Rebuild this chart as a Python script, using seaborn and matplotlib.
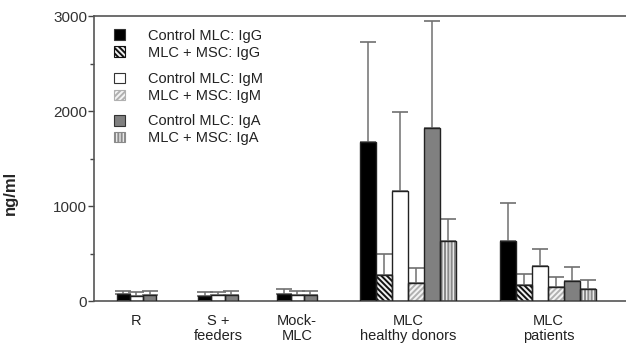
import numpy as np
import pandas as pd
import matplotlib
matplotlib.use("Agg")
import matplotlib.pyplot as plt
from matplotlib.patches import Patch
from matplotlib.ticker import MultipleLocator
import seaborn as sns

# ---- data (ng/ml) ----
groups = ["R", "S +\nfeeders", "Mock-\nMLC", "MLC\nhealthy donors", "MLC\npatients"]
series = ["Control MLC: IgG", "MLC + MSC: IgG",
          "Control MLC: IgM", "MLC + MSC: IgM",
          "Control MLC: IgA", "MLC + MSC: IgA"]

# mean values per series (None = not measured in that group)
igg_ctrl = [70, 56, 70, 1674, 633]
igg_msc = [None, None, None, 274, 166]
igm_ctrl = [53, 60, 60, 1163, 373]
igm_msc = [None, None, None, 193, 151]
iga_ctrl = [60, 62, 62, 1822, 214]
iga_msc = [None, None, None, 636, 130]

# upper error (SD) per series
igg_ctrl_sd = [35, 36, 57, 1055, 397]
igg_msc_sd = [None, None, None, 218, 119]
igm_ctrl_sd = [42, 38, 48, 831, 172]
igm_msc_sd = [None, None, None, 152, 106]
iga_ctrl_sd = [48, 43, 43, 1132, 141]
iga_msc_sd = [None, None, None, 232, 95]

means = [igg_ctrl, igg_msc, igm_ctrl, igm_msc, iga_ctrl, iga_msc]
sds = [igg_ctrl_sd, igg_msc_sd, igm_ctrl_sd, igm_msc_sd, iga_ctrl_sd, iga_msc_sd]

rows = []
for s, m_list, e_list in zip(series, means, sds):
    for g, m, e in zip(groups, m_list, e_list):
        if m is not None:
            rows.append({"group": g, "series": s, "mean": m, "sd": e})
df = pd.DataFrame(rows)

# ---- styles ----
styles = {
    "Control MLC: IgG": dict(face="black", hatch=None, hcol="black"),
    "MLC + MSC: IgG": dict(face="#f0f0f0", hatch="\\" * 6, hcol="#111111"),
    "Control MLC: IgM": dict(face="white", hatch=None, hcol="black"),
    "MLC + MSC: IgM": dict(face="#f4f4f4", hatch="/" * 6, hcol="#b0b0b0"),
    "Control MLC: IgA": dict(face="#808080", hatch=None, hcol="black"),
    "MLC + MSC: IgA": dict(face="#e8e8e8", hatch="|" * 5, hcol="#8a8a8a"),
}

sns.set_style("ticks")
plt.rcParams["font.family"] = ["Liberation Sans", "DejaVu Sans"]
plt.rcParams["hatch.linewidth"] = 1.4

fig = plt.figure(figsize=(6.26, 3.43), dpi=100)
ax = fig.add_axes([0.150, 0.1224, 0.85, 0.8295])

group_pos = [0, 1.02, 2.01, 3.4, 5.15]

for gi, g in enumerate(groups):
    sub = df[df["group"] == g].reset_index(drop=True)
    n = len(sub)
    w = 0.2 if n == 6 else 0.165
    xs = group_pos[gi] + (np.arange(n) - (n - 1) / 2) * w
    for x, (_, r) in zip(xs, sub.iterrows()):
        st = styles[r["series"]]
        eb = ax.errorbar(x, r["mean"], yerr=[[0], [r["sd"]]], fmt="none",
                         ecolor="#707070", elinewidth=1.1, capsize=5.5,
                         capthick=1.2, zorder=1)
        for cap in eb[1]:
            cap.set_color("#333333")
        ax.bar(x, r["mean"], width=w, color=st["face"], edgecolor=st["hcol"],
               hatch=st["hatch"], linewidth=0, zorder=2)
        ax.bar(x, r["mean"], width=w, fill=False, edgecolor="#222222",
               linewidth=1.0, zorder=3)

ax.set_xlim(-0.53, 6.12)
ax.set_ylim(0, 3000)
ax.yaxis.set_major_locator(MultipleLocator(1000))
ax.yaxis.set_minor_locator(MultipleLocator(500))
ax.set_xticks(group_pos)
ax.set_xticklabels(groups, fontsize=10.5, color="#222222", linespacing=1.15)
ax.tick_params(axis="x", length=0, pad=9)
ax.tick_params(axis="y", which="major", length=4, width=1, color="#444444",
               labelsize=11, labelcolor="#333333", pad=1)
ax.tick_params(axis="y", which="minor", length=3, width=1, color="#444444")
ax.set_ylabel("ng/ml", fontsize=12, fontweight="bold")
ax.yaxis.set_label_coords(-0.143, 0.38)

for side in ["left", "bottom", "top"]:
    ax.spines[side].set_color("#555555")
    ax.spines[side].set_linewidth(1.2)
ax.spines["right"].set_visible(False)


def legend_handle(s):
    st = styles[s]
    edge = st["hcol"] if st["hatch"] else "#333333"
    return Patch(facecolor=st["face"], edgecolor=edge, hatch=st["hatch"],
                 linewidth=0.8)


pair_y = [0.903, 0.75, 0.602]
legends = []
for k, y in enumerate(pair_y):
    pair = series[2 * k:2 * k + 2]
    leg = ax.legend([legend_handle(s) for s in pair], pair, loc="center left",
                    bbox_to_anchor=(0.038, y), frameon=False, fontsize=10.5,
                    handlelength=0.75, handleheight=0.75, handletextpad=1.6,
                    labelspacing=0.2, borderpad=0, borderaxespad=0)
    for t in leg.get_texts():
        t.set_color("#222222")
    legends.append(leg)
# the last legend stays as the axes legend, the others are added as artists
for leg in legends[:-1]:
    ax.add_artist(leg)

plt.savefig("out.png", dpi=100)
plt.close()
